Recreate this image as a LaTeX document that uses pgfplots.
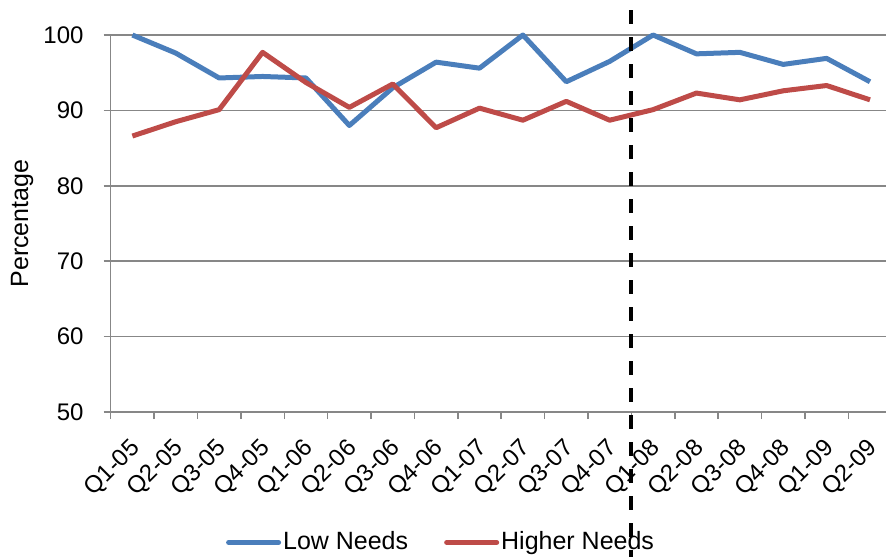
\documentclass[border=0pt]{standalone}
\usepackage{pgfplots}
\pgfplotsset{compat=1.18}
\usepackage{fontspec}
\setmainfont{Liberation Sans}
\definecolor{lowblue}{HTML}{4A7EBB}
\definecolor{highred}{HTML}{BE4B48}
\definecolor{gridgray}{HTML}{878787}
\begin{document}
\fontsize{24}{28}\selectfont
\begin{tikzpicture}
\begin{axis}[
  name=ax,
  scale only axis,
  width=781pt, height=377pt,
  xmin=-0.5, xmax=17.5,
  ymin=50, ymax=100,
  ytick={50,60,70,80,90,100},
  xtick={0,...,17},
  xticklabels={Q1-05,Q2-05,Q3-05,Q4-05,Q1-06,Q2-06,Q3-06,Q4-06,Q1-07,Q2-07,Q3-07,Q4-07,Q1-08,Q2-08,Q3-08,Q4-08,Q1-09,Q2-09},
  minor xtick={-0.5,0.5,...,17.5},
  major x tick style={draw=none},
  minor x tick style={gridgray, line width=1.5pt},
  y tick style={gridgray, line width=1.5pt},
  tick align=outside,
  major tick length=7pt, minor tick length=7pt,
  ymajorgrids,
  grid style={gridgray, line width=1.5pt},
  axis x line*=bottom, axis y line*=left,
  axis line style={gridgray, line width=1.5pt, -},
  x axis line style={-}, y axis line style={-},
  /pgf/number format/assume math mode=true,
  ticklabel style={font=\fontsize{24}{28}\selectfont},
  yticklabel style={xshift=-12pt},
  xticklabel style={xshift=4pt, yshift=-26pt, rotate=45, anchor=east, inner sep=0pt},
  ylabel={Percentage},
  ylabel style={at={(axis description cs:-0.1135,0.5)}, anchor=center, font=\fontsize{25}{29}\selectfont},
  clip=false,
  legend columns=2,
  legend style={draw=none, fill=none, at={(axis description cs:0.423,-0.346)}, anchor=center,
    font=\fontsize{25}{29}\selectfont, inner sep=0pt,
    /tikz/every even column/.append style={column sep=34pt}},
  legend image code/.code={\draw[#1, line width=5pt, line cap=round] (0pt,0pt) -- (50pt,0pt);},
  legend cell align=left,
]
\addplot[lowblue, line width=5pt, line join=round] coordinates {
(0,100) (1,97.6) (2,94.3) (3,94.5) (4,94.3) (5,88.0) (6,93.0) (7,96.4) (8,95.6)
(9,100) (10,93.8) (11,96.5) (12,100) (13,97.5) (14,97.7) (15,96.1) (16,96.9) (17,93.8)};
\addlegendentry{Low Needs}
\addplot[highred, line width=5pt, line join=round] coordinates {
(0,86.6) (1,88.5) (2,90.1) (3,97.7) (4,93.7) (5,90.4) (6,93.5) (7,87.7) (8,90.3)
(9,88.7) (10,91.2) (11,88.7) (12,90.1) (13,92.3) (14,91.4) (15,92.6) (16,93.3) (17,91.4)};
\addlegendentry{Higher Needs}
\addplot[black, line width=4pt, dash pattern=on 14pt off 13pt, forget plot] coordinates {(11.5,103.3) (11.5,30.8)};
\end{axis}
\pgfresetboundingbox
\useasboundingbox ([xshift=-110.7pt, yshift=-145.3pt]ax.south west) rectangle ([xshift=-5.7pt, yshift=35pt]ax.north east);
\end{tikzpicture}
\end{document}
